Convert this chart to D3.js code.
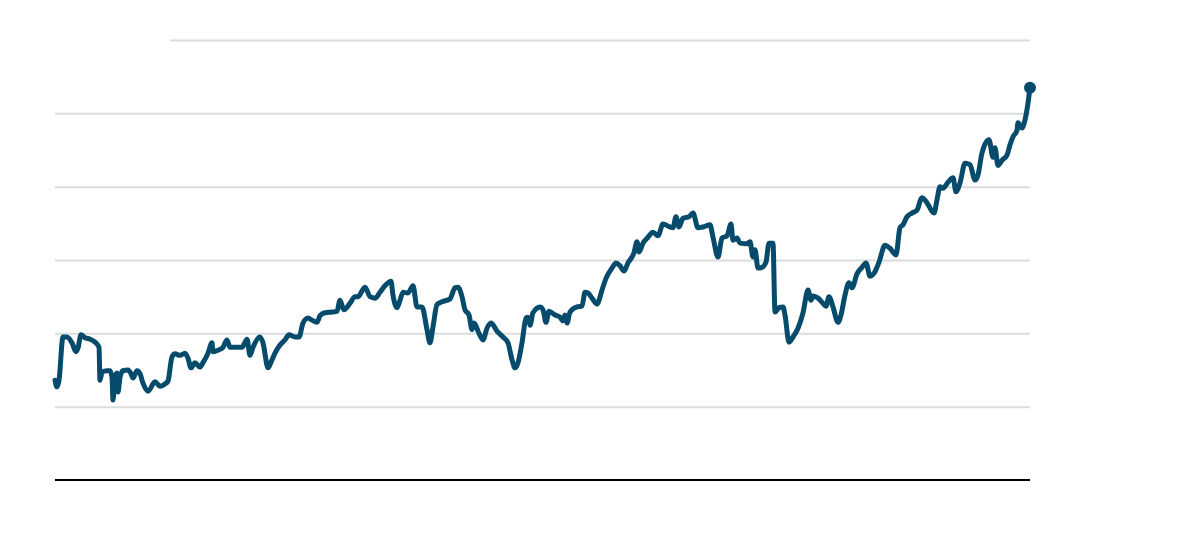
<!DOCTYPE html>
<html>
<head>
<meta charset="utf-8">
<script src="https://cdn.jsdelivr.net/npm/d3@7"></script>
<style>
  body { margin: 0; background: #fff; }
  #chart-container { width: 1200px; height: 540px; }
  .grid-y .domain { display: none; }
  .grid-y .tick line { stroke: #dcdcdc; stroke-width: 2; }
  .grid-y .tick text { display: none; }
</style>
</head>
<body>
<div id="chart-container"></div>
<script>
//data
var periods = [0,2,4,8,12,17,21,23,26,30,35,40,44,45,47,52,55,57,58,60,62,63,65,68,73,76,78,82,85,88,93,100,105,110,113,117,120,125,130,133,136,140,145,148,153,157,158,163,168,172,175,182,187,192,195,198,205,208,213,217,220,225,230,234,240,244,248,253,257,262,265,270,277,282,285,289,295,300,303,310,315,320,325,330,336,338,342,345,348,353,358,362,367,372,375,378,382,387,395,400,403,407,410,414,417,419,424,428,432,436,442,448,453,457,460,463,467,471,473,475,478,485,488,491,494,500,505,508,510,512,515,522,527,530,533,537,542,547,551,557,561,565,569,573,579,582,584,588,593,598,603,608,615,618,621,624,628,634,638,643,648,655,658,663,667,672,676,678,682,685,692,695,698,700,703,707,711,714,718,720,724,728,730,734,738,743,748,753,756,758,763,768,771,774,778,783,786,790,794,797,802,807,811,815,820,824,830,835,841,845,848,852,857,862,867,872,879,882,885,888,893,898,901,905,910,915,920,923,927,934,938,940,943,947,952,955,958,962,963,967,970,973,975];

var values = [13.6,12.7,13.6,19.5,19.5,18.7,17.5,18.0,19.8,19.4,19.2,18.8,18.1,13.6,14.7,14.9,14.9,14.0,10.9,14.0,14.6,12.0,14.0,14.9,15.0,14.5,13.9,14.9,14.5,13.2,12.1,13.4,12.8,13.1,13.5,16.8,17.2,17.0,17.3,16.6,15.3,16.0,15.4,16.0,17.3,18.7,17.5,17.7,18.1,19.1,18.1,18.1,18.1,19.2,17.0,18.1,19.5,18.7,15.3,16.4,17.3,18.4,19.1,19.8,19.5,19.5,21.4,22.1,21.8,21.5,22.4,22.8,22.9,23.0,24.5,23.2,24.1,25.0,25.0,26.3,25.0,24.8,25.6,26.5,27.1,25.2,23.5,24.5,25.6,25.5,26.5,23.6,23.6,20.5,18.7,20.9,23.9,24.3,24.7,26.2,26.3,25.0,23.2,22.5,20.5,21.4,20.0,19.1,20.7,21.4,20.3,19.5,18.7,16.4,15.3,16.0,18.7,22.1,22.2,21.1,22.8,23.6,23.2,21.5,23.0,22.5,22.2,21.7,22.5,21.4,22.9,23.6,23.7,25.6,25.5,24.8,24.0,25.9,27.5,28.9,29.6,29.2,28.5,29.6,31.0,32.5,31.1,32.3,33.1,33.8,33.3,34.9,34.5,34.4,35.9,34.5,35.7,35.9,36.4,34.4,34.5,34.8,33.1,30.4,33.0,33.3,34.9,32.7,33.0,32.3,32.2,32.5,30.4,31.4,28.9,29.0,29.7,32.3,32.3,22.9,23.5,23.6,22.5,18.8,19.5,20.7,22.8,25.9,24.5,25.1,24.8,24.1,23.7,25.0,23.6,21.5,22.5,25.2,26.9,26.2,28.1,29.0,29.6,27.8,28.4,29.7,32.0,31.6,30.7,34.4,34.8,35.9,36.4,36.8,38.5,37.8,36.4,38.2,40.0,39.8,40.6,41.2,39.3,40.5,43.2,43.0,40.9,41.6,44.6,46.4,44.0,45.3,42.9,43.6,44.3,45.7,46.8,47.7,48.7,48.0,49.1,51.4,53.5];

var yTicks = [0, 10, 20, 30, 40, 50, 60];

//sizes
var outerW = 1200,
    outerH = 540,
    margin = { top: 40, right: 170, bottom: 60, left: 55 },
    w = outerW - margin.left - margin.right,
    h = outerH - margin.top - margin.bottom;

var lineColor = '#064b6b';

function buildChart() {
    var series = periods.map(function(p, i) {
        return { t: p, v: values[i] };
    });

    var xScale = d3.scaleLinear()
        .domain(d3.extent(periods))
        .range([0, w]);

    var yScale = d3.scaleLinear()
        .domain([0, 60])
        .range([h, 0]);

    var svg = d3.select('#chart-container').append('svg')
        .attr('width', outerW)
        .attr('height', outerH);

    var g = svg.append('g')
        .attr('transform', 'translate(' + margin.left + ', ' + margin.top + ')');

    var yAxis = d3.axisLeft(yScale)
        .tickValues(yTicks.slice(1))
        .tickSize(-w)
        .tickFormat('');

    var gridG = g.append('g')
        .attr('class', 'grid-y')
        .call(yAxis);

    // top gridline starts further right
    gridG.selectAll('.tick')
        .filter(function(d) { return d === 60; })
        .select('line')
        .attr('x1', 115);

    g.append('line')
        .attr('x1', 0)
        .attr('x2', w)
        .attr('y1', yScale(0))
        .attr('y2', yScale(0))
        .attr('stroke', '#000')
        .attr('stroke-width', 2);

    var line = d3.line()
        .x(function(d) { return xScale(d.t); })
        .y(function(d) { return yScale(d.v); })
        .curve(d3.curveMonotoneX);

    g.append('path')
        .datum(series)
        .attr('fill', 'none')
        .attr('stroke', lineColor)
        .attr('stroke-width', 5)
        .attr('stroke-linejoin', 'round')
        .attr('stroke-linecap', 'round')
        .attr('d', line);

    var last = series[series.length - 1];
    g.append('circle')
        .attr('cx', xScale(last.t))
        .attr('cy', yScale(last.v))
        .attr('r', 6)
        .attr('fill', lineColor);
}

buildChart();
</script>
</body>
</html>
